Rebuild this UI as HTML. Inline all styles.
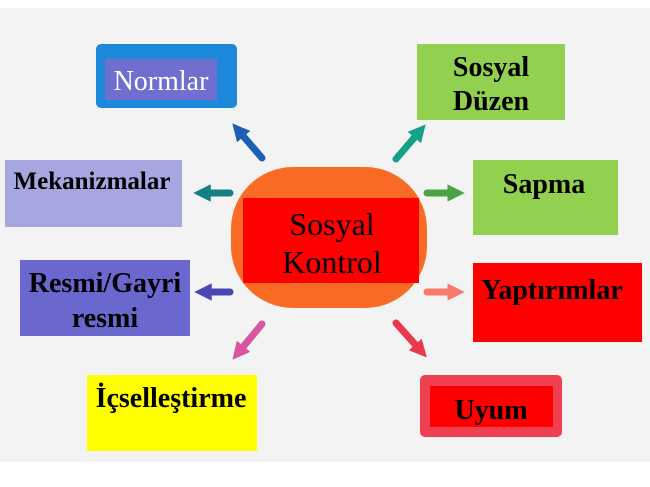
<!DOCTYPE html>
<html><head><meta charset="utf-8"><style>
html,body{margin:0;padding:0;background:#fff}
svg{display:block}
.b{font-family:"Liberation Serif",serif;font-weight:bold;fill:#000}
.s{font-family:"Liberation Serif",serif}
</style></head><body>
<svg width="650" height="487" viewBox="0 0 650 487" xmlns="http://www.w3.org/2000/svg">
<defs>
<marker id="ah" viewBox="0 0 10 10" refX="5" refY="5" markerWidth="2.5" markerHeight="2.5" orient="auto" markerUnits="strokeWidth">
<path d="M0,0 L10,5 L0,10 z" fill="context-stroke"/>
</marker>
</defs>
<rect x="0" y="0" width="650" height="487" fill="#f3f3f3"/>
<rect x="0" y="0" width="650" height="8" fill="#fff"/>
<rect x="0" y="462" width="650" height="25" fill="#fff"/>

<rect x="96" y="44" width="141" height="64" rx="5" fill="#1e88da"/>
<rect x="105" y="59" width="112" height="41" fill="#6f6fd0"/>
<text x="161" y="90" text-anchor="middle" class="s" font-size="28" fill="#fff">Normlar</text>

<rect x="5" y="160" width="177" height="67" fill="#a6a6e0"/>
<text x="92" y="189" text-anchor="middle" class="b" font-size="25">Mekanizmalar</text>

<rect x="20" y="260" width="170" height="76" fill="#6a67cf"/>
<text x="105" y="292" text-anchor="middle" class="b" font-size="28">Resmi/Gayri</text>
<text x="105" y="327" text-anchor="middle" class="b" font-size="28">resmi</text>

<rect x="87" y="375" width="170" height="76" fill="#ffff00"/>
<text x="171" y="407" text-anchor="middle" class="b" font-size="28">İçselleştirme</text>

<rect x="417" y="44" width="148" height="76" fill="#92d050"/>
<text x="491" y="76" text-anchor="middle" class="b" font-size="28">Sosyal</text>
<text x="491" y="110" text-anchor="middle" class="b" font-size="28">Düzen</text>

<rect x="473" y="160" width="145" height="75" fill="#92d050"/>
<text x="544" y="193" text-anchor="middle" class="b" font-size="28">Sapma</text>

<rect x="473" y="263" width="169" height="79" fill="#ff0000"/>
<text x="552" y="299" text-anchor="middle" class="b" font-size="28">Yaptırımlar</text>

<rect x="420" y="375" width="142" height="62" rx="5" fill="#ee4050"/>
<rect x="430" y="386" width="123" height="41" fill="#ff0000"/>
<text x="491" y="419" text-anchor="middle" class="b" font-size="28">Uyum</text>

<rect x="231" y="167" width="196" height="141" rx="62" fill="#f96b24"/>
<rect x="243" y="198" width="176" height="85" fill="#ff0000"/>
<text x="332" y="235" text-anchor="middle" class="s" font-size="32" fill="#000">Sosyal</text>
<text x="332" y="273" text-anchor="middle" class="s" font-size="32" fill="#000">Kontrol</text>

<g stroke-width="7" stroke-linecap="round" fill="none">
<line x1="262" y1="158" x2="238" y2="130" stroke="#1c5fb5" marker-end="url(#ah)"/>
<line x1="230" y1="193" x2="202" y2="193" stroke="#157f86" marker-end="url(#ah)"/>
<line x1="230" y1="292" x2="203" y2="292" stroke="#4a47b5" marker-end="url(#ah)"/>
<line x1="262" y1="324" x2="238" y2="353" stroke="#d9559e" marker-end="url(#ah)"/>
<line x1="396" y1="159" x2="420" y2="131" stroke="#16a085" marker-end="url(#ah)"/>
<line x1="427" y1="193" x2="456" y2="193" stroke="#4aa340" marker-end="url(#ah)"/>
<line x1="427" y1="292" x2="456" y2="292" stroke="#f77a6a" marker-end="url(#ah)"/>
<line x1="396" y1="323" x2="421" y2="351" stroke="#e83a4a" marker-end="url(#ah)"/>
</g>
</svg>
</body></html>
